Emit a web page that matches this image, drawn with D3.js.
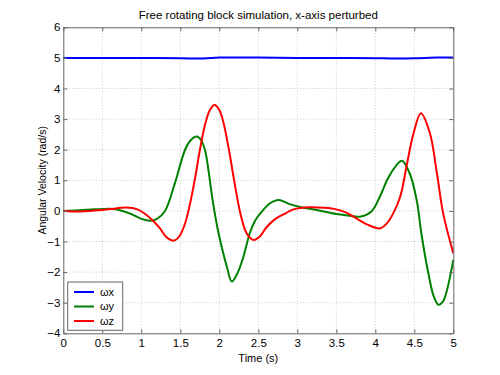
<!DOCTYPE html>
<html>
<head>
<meta charset="utf-8">
<script src="https://cdn.jsdelivr.net/npm/d3@7"></script>
<style>
  body { margin: 0; background: #fff; }
  text { font-family: "Liberation Sans", Arial, sans-serif; }
</style>
</head>
<body>
<div id="chart"></div>
<script>
// 時間軸與各角速度資料
const timeX = [0, 0.5, 1, 1.5, 1.8, 2.0, 2.5, 3, 3.5, 4, 4.2, 4.5, 4.8, 5];
const omegaX = [5, 5, 5, 4.99, 4.98, 5.01, 5.01, 5, 5, 4.99, 4.98, 4.99, 5.01, 5.01];

const timeY = [0, 0.2, 0.4, 0.6, 0.7, 0.85, 1.0, 1.12, 1.2, 1.3, 1.43, 1.56, 1.63, 1.71, 1.77, 1.82, 1.86, 1.9, 1.94,
  1.98, 2.03, 2.1, 2.16, 2.23, 2.31, 2.39, 2.45, 2.52, 2.65, 2.76, 2.9, 3.05, 3.25, 3.5, 3.65, 3.8, 3.95,
  4.06, 4.15, 4.23, 4.34, 4.44, 4.53, 4.59, 4.68, 4.75, 4.81, 4.87, 4.92, 5];
const omegaY = [0, 0.02, 0.05, 0.07, 0.04, -0.08, -0.26, -0.32, -0.26, -0.02, 0.9, 1.99, 2.3, 2.43, 2.3, 1.95, 1.35, 0.6, -0.05,
  -0.6, -1.17, -1.85, -2.31, -2.05, -1.49, -0.73, -0.36, -0.1, 0.25, 0.36, 0.22, 0.12, 0.03, -0.1, -0.15, -0.19, -0.02,
  0.47, 1.0, 1.35, 1.64, 1.23, 0.36, -0.73, -2.04, -2.8, -3.07, -2.95, -2.58, -1.6];

const timeZ = [0, 0.2, 0.4, 0.6, 0.81, 0.95, 1.05, 1.15, 1.24, 1.32, 1.42, 1.49, 1.56, 1.62, 1.69, 1.75, 1.82, 1.88, 1.94,
  2.0, 2.05, 2.12, 2.18, 2.27, 2.35, 2.44, 2.52, 2.6, 2.7, 2.85, 2.95, 3.16, 3.35, 3.5, 3.62, 3.72, 3.9,
  4.06, 4.15, 4.23, 4.32, 4.4, 4.49, 4.585, 4.7, 4.79, 4.87, 5];
const omegaZ = [0, -0.02, 0.01, 0.06, 0.11, 0.05, -0.1, -0.32, -0.57, -0.85, -0.97, -0.82, -0.42, 0.18, 1.08, 1.98, 2.85, 3.3, 3.46,
  3.3, 2.92, 2.05, 1.15, -0.08, -0.73, -0.95, -0.84, -0.55, -0.3, -0.08, 0.05, 0.12, 0.1, 0.05, -0.05, -0.19, -0.45,
  -0.57, -0.4, -0.08, 0.47, 1.45, 2.54, 3.19, 2.54, 1.23, -0.08, -1.38];

const xTicks = [0, 0.5, 1, 1.5, 2, 2.5, 3, 3.5, 4, 4.5, 5];
const yTicks = [-4, -3, -2, -1, 0, 1, 2, 3, 4, 5, 6];

const seriesNames = ["\u03c9x", "\u03c9y", "\u03c9z"];
const seriesColors = ["#0000ff", "#008000", "#ff0000"];

// 圖表尺寸
const W = 500, H = 375;
const margin = {top: 27.3, right: 46.7, bottom: 41.7, left: 63.3};
const width = W - margin.left - margin.right;
const height = H - margin.top - margin.bottom;

const svg = d3.select("#chart").append("svg")
    .attr("width", W)
    .attr("height", H);

const g = svg.append("g")
    .attr("transform", `translate(${margin.left},${margin.top})`);

const x = d3.scaleLinear().domain([0, 5]).range([0, width]);
const y = d3.scaleLinear().domain([-4, 6]).range([height, 0]);

// 網格線（虛點）
g.append("g")
    .selectAll("line")
    .data(xTicks.slice(1, -1))
    .join("line")
    .attr("x1", d => x(d)).attr("x2", d => x(d))
    .attr("y1", 0).attr("y2", height)
    .attr("stroke", "#c8c8c8")
    .attr("stroke-dasharray", "1,2");

g.append("g")
    .selectAll("line")
    .data(yTicks.slice(1, -1))
    .join("line")
    .attr("x1", 0).attr("x2", width)
    .attr("y1", d => y(d)).attr("y2", d => y(d))
    .attr("stroke", "#c8c8c8")
    .attr("stroke-dasharray", "1,2");

// 曲線
const line = d3.line()
    .x(d => x(d[0]))
    .y(d => y(d[1]))
    .curve(d3.curveCatmullRom.alpha(0.5));

const series = [
  d3.zip(timeX, omegaX),
  d3.zip(timeY, omegaY),
  d3.zip(timeZ, omegaZ)
];

g.append("g")
    .selectAll("path")
    .data(series)
    .join("path")
    .attr("d", line)
    .attr("fill", "none")
    .attr("stroke", (d, i) => seriesColors[i])
    .attr("stroke-width", 2);

// 座標軸（刻度朝內，四邊）
const axisColor = "#666";
const tickLen = 4;

const axBottom = g.append("g")
    .attr("transform", `translate(0,${height})`)
    .call(d3.axisBottom(x).tickValues(xTicks).tickSizeInner(-tickLen).tickSizeOuter(0).tickPadding(6)
      .tickFormat(d3.format("")));
const axTop = g.append("g")
    .call(d3.axisTop(x).tickValues(xTicks).tickSizeInner(-tickLen).tickSizeOuter(0).tickFormat(""));
const axLeft = g.append("g")
    .call(d3.axisLeft(y).tickValues(yTicks).tickSizeInner(-tickLen).tickSizeOuter(0).tickPadding(3)
      .tickFormat(d => d < 0 ? "\u2212" + Math.abs(d) : d));
const axRight = g.append("g")
    .attr("transform", `translate(${width},0)`)
    .call(d3.axisRight(y).tickValues(yTicks).tickSizeInner(-tickLen).tickSizeOuter(0).tickFormat(""));

[axBottom, axTop, axLeft, axRight].forEach(a => {
  a.select(".domain").attr("stroke", axisColor);
  a.selectAll(".tick line").attr("stroke", axisColor);
  a.selectAll(".tick text")
      .attr("fill", "#000")
      .style("font-size", "11.5px")
      .style("font-family", "'Liberation Sans', Arial, sans-serif");
});

// 標題與軸標籤
svg.append("text")
    .attr("x", margin.left + width / 2)
    .attr("y", 19)
    .attr("text-anchor", "middle")
    .style("font-size", "11.5px")
    .text("Free rotating block simulation, x-axis perturbed");

svg.append("text")
    .attr("x", margin.left + width / 2)
    .attr("y", 361.5)
    .attr("text-anchor", "middle")
    .style("font-size", "11px")
    .text("Time (s)");

svg.append("text")
    .attr("transform", `translate(46,${margin.top + height / 2}) rotate(-90)`)
    .attr("text-anchor", "middle")
    .style("font-size", "10.5px")
    .text("Angular Velocity (rad/s)");

// 圖例
const legend = g.append("g")
    .attr("transform", `translate(${x(0) + 4.4},${y(-4) - 51.3})`);

legend.append("rect")
    .attr("width", 55)
    .attr("height", 48.3)
    .attr("fill", "#fff")
    .attr("stroke", axisColor);

seriesNames.forEach((name, i) => {
  const yy = 10 + i * 14.5;
  legend.append("line")
      .attr("x1", 6.3).attr("x2", 26.3)
      .attr("y1", yy).attr("y2", yy)
      .attr("stroke", seriesColors[i])
      .attr("stroke-width", 2);
  legend.append("text")
      .attr("x", 32.3)
      .attr("y", yy)
      .attr("dy", "0.35em")
      .style("font-size", "11px")
      .text(name);
});
</script>
</body>
</html>
